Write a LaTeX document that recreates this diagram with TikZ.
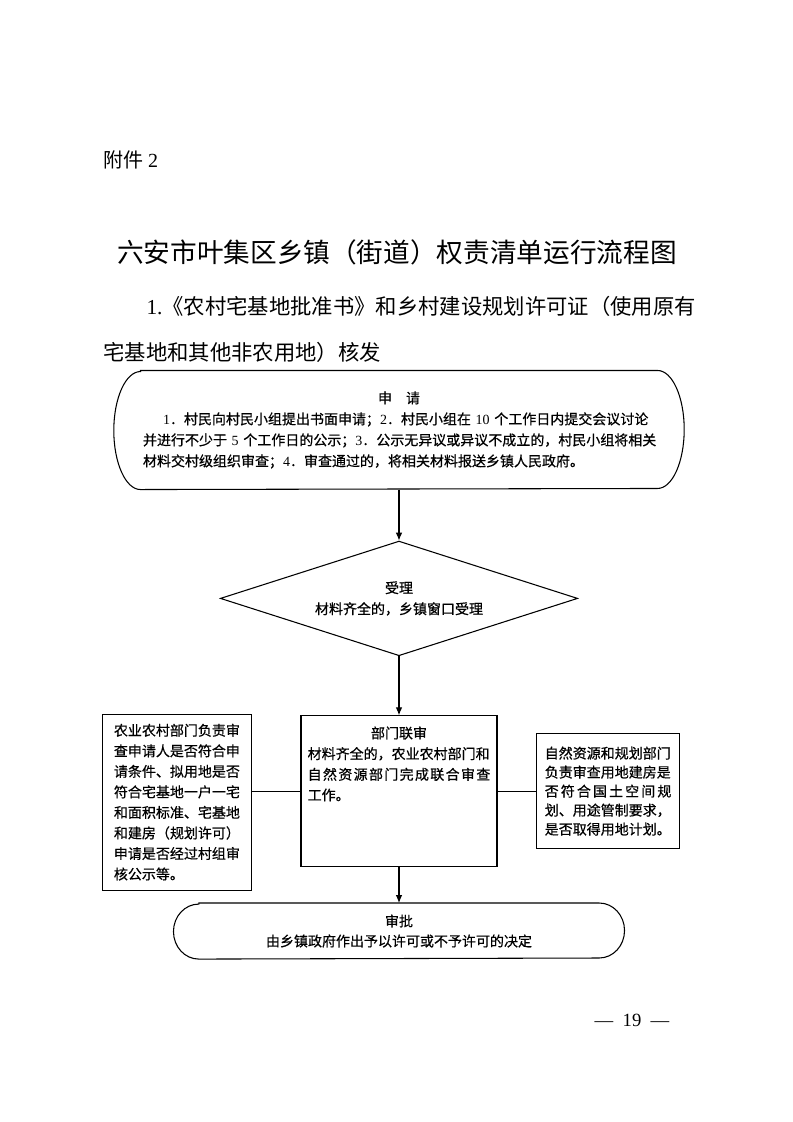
\documentclass[tikz,border=0pt]{standalone}
\usepackage{fontspec}
\setmainfont{Liberation Serif}
\newfontfamily\cjk{Noto Sans CJK SC}
\newfontfamily\cjkbox[FakeBold=0.6]{Noto Sans CJK SC}
\usetikzlibrary{shapes.geometric, positioning, arrows.meta}

\begin{document}
\begin{tikzpicture}[x=0.75pt, y=-0.75pt, line width=0.8pt,
	every node/.style={font=\cjkbox\fontsize{10.5pt}{15.5pt}\selectfont},
	heading/.style={inner sep=0pt, font=\cjk},
	stadium/.style={rectangle, align=center},
	stepbox/.style={draw, rectangle, align=left},
	decision/.style={draw, diamond, aspect=3.1, inner sep=0pt, align=center},
	flow/.style={-{Latex[length=6pt, width=5pt]}}]
	\useasboundingbox (0,0) rectangle (793,1122);

	% page heading
	\node[heading, anchor=west] (annex) at (103,160) {\fontsize{15pt}{18pt}\selectfont 附件 {\rmfamily 2}};
	\node[heading] (title) at (397,252) {\fontsize{20pt}{24pt}\selectfont 六安市叶集区乡镇（街道）权责清单运行流程图};
	\node[heading, anchor=west] (sub1) at (146,306) {\fontsize{16pt}{20pt}\selectfont {\rmfamily 1.}《农村宅基地批准书》和乡村建设规划许可证（使用原有};
	\node[heading, anchor=west] (sub2) at (103,352) {\fontsize{16pt}{20pt}\selectfont 宅基地和其他非农用地）核发};

	% flow
	\node[stadium, minimum width=427pt, minimum height=88.5pt, text width=384pt, align=left,
		font=\cjkbox\fontsize{10.5pt}{15.75pt}\selectfont] (apply) at (399,430)
		{\hspace*{\fill}申\quad 请\hspace*{\fill}\null\\
		\hspace*{15pt}{\rmfamily 1}．村民向村民小组提出书面申请；{\rmfamily 2}．村民小组在~{\rmfamily 10}~个工作日内提交会议讨论\\
		并进行不少于~{\rmfamily 5}~个工作日的公示；{\rmfamily 3}．公示无异议或异议不成立的，村民小组将相关\\
		材料交村级组织审查；{\rmfamily 4}．审查通过的，将相关材料报送乡镇人民政府。};
	\node[decision, below=38.25pt of apply, minimum width=268pt, minimum height=86pt,
		font=\cjkbox\fontsize{10.5pt}{15.75pt}\selectfont] (accept)
		{受理\\材料齐全的，乡镇窗口受理};
	\node[stepbox, below=44.25pt of accept, inner sep=0pt, minimum width=147pt] (review)
		{\parbox[c][113pt][t]{137pt}{\vspace{8pt}{\centering 部门联审\par}
		材料齐全的，农业农村部门和\\
		\makebox[\linewidth][s]{自\hfil 然\hfil 资\hfil 源\hfil 部\hfil 门\hfil 完\hfil 成\hfil 联\hfil 合\hfil 审\hfil 查}\\
		工作。}};
	\node[stepbox, left=36pt of review, yshift=-8.25pt, minimum width=112pt, minimum height=132pt,
		text width=95pt, font=\cjkbox\fontsize{10.5pt}{15.4pt}\selectfont] (agri)
		{农业农村部门负责审\\查申请人是否符合申\\请条件、拟用地是否\\符合宅基地一户一宅\\和面积标准、宅基地\\和建房（规划许可）\\申请是否经过村组审\\核公示等。};
	\node[stepbox, right=29pt of review, minimum width=107pt, minimum height=86pt,
		text width=95pt, font=\cjkbox\fontsize{10.5pt}{14.25pt}\selectfont] (land)
		{自然资源和规划部门\\负责审查用地建房是\\
		\makebox[\linewidth][s]{否\hfil 符\hfil 合\hfil 国\hfil 土\hfil 空\hfil 间\hfil 规}\\
		划、用途管制要求，\\是否取得用地计划。};
	\node[stadium, below=27pt of review, minimum width=337.5pt, minimum height=41.25pt,
		font=\cjkbox\fontsize{10.5pt}{15pt}\selectfont] (approve)
		{审批\\由乡镇政府作出予以许可或不予许可的决定};

	% rounded ends
	\draw ([xshift=20pt]apply.north west) -- ([xshift=-20pt]apply.north east)
		arc[start angle=90, end angle=-90, x radius=20pt, y radius=44.25pt]
		-- ([xshift=20pt]apply.south west)
		arc[start angle=270, end angle=90, x radius=20pt, y radius=44.25pt] -- cycle;
	\draw ([xshift=19pt]approve.north west) -- ([xshift=-19pt]approve.north east)
		arc[start angle=90, end angle=-90, x radius=19pt, y radius=20.625pt]
		-- ([xshift=19pt]approve.south west)
		arc[start angle=270, end angle=90, x radius=19pt, y radius=20.625pt] -- cycle;

	\draw[flow] (apply) -- (accept);
	\draw[flow] (accept) -- (review);
	\draw[flow] (review) -- (approve);
	\draw (review.west) -- (review.west -| agri.east);
	\draw (review.east) -- (review.east -| land.west);

	% page number
	\node (pageno) at (632,1020) {\rmfamily\fontsize{14pt}{16pt}\selectfont —\enspace 19\enspace —};
\end{tikzpicture}
\end{document}
